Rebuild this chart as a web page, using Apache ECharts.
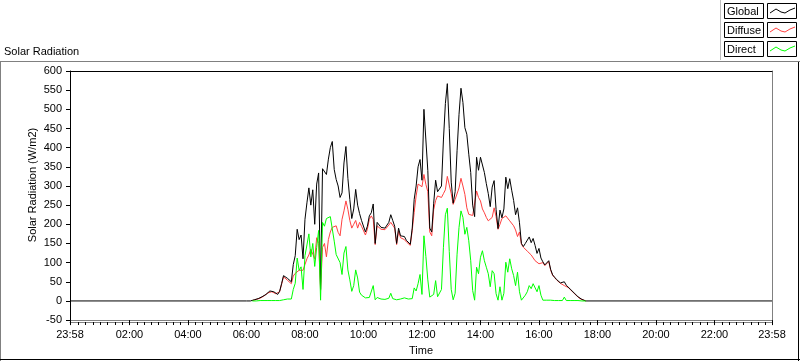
<!DOCTYPE html>
<html>
<head>
<meta charset="utf-8">
<script src="https://cdn.jsdelivr.net/npm/echarts@6/dist/echarts.min.js"></script>
<style>
html,body{margin:0;padding:0;background:#fff;}
#c{width:800px;height:361px;}
</style>
</head>
<body>
<div id="c"></div>
<script>
// ---- data (minutes since midnight; samples every stepMin from startMin) ----
const startMin = 360;
const stepMin = 4;
const dayStart = -2;    // 23:58 previous day
const dayEnd = 1438;    // 23:58

const globalVals = [
  0,0,0,1,3,4,6,8,11,14,
  17,22,26,25,24,20,17,25,45,66,
  62,59,56,50,95,118,187,160,172,110,
  213,256,295,250,290,200,305,334,30,345,
  345,330,370,400,416,343,317,300,270,282,
  360,403,320,265,215,240,291,250,228,210,
  212,180,195,222,230,253,150,205,200,192,
  196,190,192,205,225,210,195,150,190,170,
  175,168,158,155,148,190,265,300,350,369,
  315,500,420,340,190,180,255,315,285,285,
  300,420,515,567,450,310,255,285,392,487,
  555,518,452,435,383,335,250,220,375,341,
  375,371,335,306,280,246,297,314,239,189,
  237,217,240,323,293,319,289,262,225,243,
  204,150,142,150,154,167,152,163,145,124,
  137,112,102,94,98,105,82,68,62,56,
  51,47,44,50,41,36,31,26,21,16,
  11,7,4,2,0,0
];
const diffuseVals = [
  null,null,null,1,3,4,5,7,10,13,
  16,21,25,24,23,19,16,24,43,63,
  58,54,52,45,65,72,75,80,83,80,
  95,110,120,135,140,110,165,150,28,140,
  150,115,160,180,192,187,196,179,170,213,
  235,261,239,210,190,200,210,190,205,195,
  200,172,187,213,222,213,147,196,193,187,
  190,186,187,198,205,204,190,147,183,165,
  170,160,154,150,145,184,231,274,305,300,
  298,330,304,285,180,170,238,262,274,272,
  270,280,290,325,321,280,252,265,270,295,
  320,300,278,243,226,230,223,218,287,270,
  261,240,230,218,209,209,218,243,220,187,
  200,215,220,222,218,209,205,196,185,168,
  180,148,140,135,130,127,120,118,105,100,
  97,97,100,92,96,103,80,67,61,55,
  50,46,43,40,40,35,30,25,20,15,
  10,6,4,2,0,null
];
const directVals = [
  null,null,null,0,0,0,1,1,1,1,
  1,1,1,1,1,1,1,1,2,3,
  4,5,4,5,30,46,112,80,89,30,
  118,146,175,115,150,90,140,184,2,205,
  195,215,210,220,224,156,121,121,100,69,
  125,142,81,55,25,40,81,60,23,15,
  12,8,8,9,8,40,3,9,7,5,
  6,4,5,7,20,6,5,3,7,5,
  5,8,4,5,3,6,34,26,45,69,
  17,170,116,55,10,10,17,53,11,13,
  30,140,225,242,129,30,3,20,122,192,
  235,218,174,192,157,105,27,2,88,71,
  114,131,105,88,71,37,79,71,19,2,
  37,2,20,101,75,110,84,66,40,75,
  24,2,2,15,24,40,32,45,40,24,
  40,15,2,2,2,2,2,1,1,1,
  1,1,1,10,1,1,1,1,1,1,
  1,1,0,0,0,null
];

const xLabelValues = [-2,120,240,360,480,600,720,840,960,1080,1200,1320,1438];
const seriesNames = ['Global','Diffuse','Direct'];
const seriesColors = ['#000000','#ff4040','#00ff00'];
const yMin = -50, yMax = 600, yStep = 50;

// ---- build ----
function pairs(vals){
  const out = [];
  vals.forEach((v,i)=>{ if(v!==null) out.push([startMin + i*stepMin, v]); });
  return out;
}
const globalData = [[dayStart,0]].concat(pairs(globalVals), [[dayEnd,0]]);
const diffuseData = pairs(diffuseVals);
const directData = pairs(directVals);

const minorTicks = [];
for (let m = 15; m < dayEnd; m += 15) { if (xLabelValues.indexOf(m) < 0) minorTicks.push(m); }

function fmtTime(v){
  let m = Math.round(v); if (m < 0) m += 1440;
  const h = Math.floor(m/60), mm = m%60;
  return String(h).padStart(2,'0') + ':' + String(mm).padStart(2,'0');
}

const FONT = 'Liberation Sans, Arial, sans-serif';
const chart = echarts.init(document.getElementById('c'), null, {renderer:'canvas'});

// legend graphics
const legendEls = [];
seriesNames.forEach((n,k)=>{
  const y0 = 3 + k*19;
  legendEls.push({type:'rect', shape:{x:724.5,y:y0+0.5,width:39,height:15}, style:{fill:'#fff',stroke:'#000',lineWidth:1}, silent:true});
  legendEls.push({type:'text', x:727, y:y0+8.5, style:{text:n, font:'11px '+FONT, fill:'#000', textVerticalAlign:'middle'}, silent:true});
  legendEls.push({type:'rect', shape:{x:767.5,y:y0+0.5,width:29,height:15}, style:{fill:'#fff',stroke:'#000',lineWidth:1}, silent:true});
  legendEls.push({type:'polyline', shape:{points:[[770,y0+10],[776,y0+6],[781,y0+9],[785,y0+10],[790,y0+7],[795,y0+5]]}, style:{stroke:seriesColors[k],lineWidth:1,fill:null}, silent:true});
});

const gridBox = {left:70, right:28, top:71, bottom:39};
const option = {
  backgroundColor:'#fff',
  animation:false,
  grid:[Object.assign({}, gridBox), Object.assign({}, gridBox)],
  xAxis:[
    {type:'value', gridIndex:0, min:dayStart, max:dayEnd, position:'bottom',
     name:'Time', nameLocation:'middle', nameGap:24,
     nameTextStyle:{fontFamily:FONT, fontSize:11, color:'#000'},
     axisLine:{show:true, onZero:false, lineStyle:{color:'#808080', width:1}},
     axisTick:{show:true, customValues:xLabelValues, length:5, lineStyle:{color:'#000', width:1}},
     axisLabel:{show:true, customValues:xLabelValues, formatter:fmtTime, margin:9, fontFamily:FONT, fontSize:11, color:'#000', showMinLabel:true, showMaxLabel:true},
     splitLine:{show:false}},
    {type:'value', gridIndex:0, min:dayStart, max:dayEnd, position:'top',
     axisLine:{show:true, onZero:false, lineStyle:{color:'#000', width:1}},
     axisTick:{show:false}, axisLabel:{show:false}, splitLine:{show:false}},
    {type:'value', gridIndex:1, min:dayStart, max:dayEnd, position:'bottom',
     axisLine:{show:true, onZero:false, lineStyle:{color:'#808080', width:1}},
     axisTick:{show:true, customValues:minorTicks, length:3, lineStyle:{color:'#000', width:1}},
     axisLabel:{show:false}, splitLine:{show:false}}
  ],
  yAxis:[
    {type:'value', gridIndex:0, min:yMin, max:yMax, interval:yStep, position:'left',
     axisLine:{show:true, onZero:false, lineStyle:{color:'#000', width:1}},
     axisTick:{show:true, length:4, lineStyle:{color:'#000'}},
     axisLabel:{margin:8, fontFamily:FONT, fontSize:11, color:'#000'},
     splitLine:{show:false}},
    {type:'value', gridIndex:0, min:yMin, max:yMax, interval:yStep, position:'right',
     axisLine:{show:true, onZero:false, lineStyle:{color:'#808080', width:1}},
     axisTick:{show:false}, axisLabel:{show:false}, splitLine:{show:false}},
    {type:'value', gridIndex:1, min:yMin, max:yMax, show:false}
  ],
  series:[
    {name:seriesNames[1], type:'line', data:diffuseData, xAxisIndex:0, yAxisIndex:0, showSymbol:false, z:2,
     lineStyle:{color:seriesColors[1], width:1}, itemStyle:{color:seriesColors[1]}},
    {name:seriesNames[0], type:'line', data:globalData, xAxisIndex:0, yAxisIndex:0, showSymbol:false, z:3,
     lineStyle:{color:seriesColors[0], width:1}, itemStyle:{color:seriesColors[0]}},
    {name:seriesNames[2], type:'line', data:directData, xAxisIndex:0, yAxisIndex:0, showSymbol:false, z:4,
     lineStyle:{color:seriesColors[2], width:1}, itemStyle:{color:seriesColors[2]}}
  ],
  graphic:[
    {type:'text', x:4, y:46, style:{text:'Solar Radiation', font:'11px '+FONT, fill:'#000'}, silent:true},
    {type:'text', x:33, y:185, rotation:Math.PI/2, style:{text:'Solar Radiation (W/m2)', font:'11px '+FONT, fill:'#000', textAlign:'center', textVerticalAlign:'middle'}, silent:true},
    // panel frame
    {type:'line', shape:{x1:0,y1:61.5,x2:800,y2:61.5}, style:{stroke:'#808080',lineWidth:1}, silent:true},
    {type:'line', shape:{x1:0.5,y1:61,x2:0.5,y2:361}, style:{stroke:'#808080',lineWidth:1}, silent:true},
    {type:'line', shape:{x1:0,y1:359.5,x2:800,y2:359.5}, style:{stroke:'#000',lineWidth:1}, silent:true},
    {type:'line', shape:{x1:798.5,y1:62,x2:798.5,y2:361}, style:{stroke:'#000',lineWidth:1}, silent:true},
    // legend frame
    {type:'line', shape:{x1:720.5,y1:0,x2:720.5,y2:60}, style:{stroke:'#c0c0c0',lineWidth:1}, silent:true}
  ].concat(legendEls)
};
chart.setOption(option);
</script>
</body>
</html>
